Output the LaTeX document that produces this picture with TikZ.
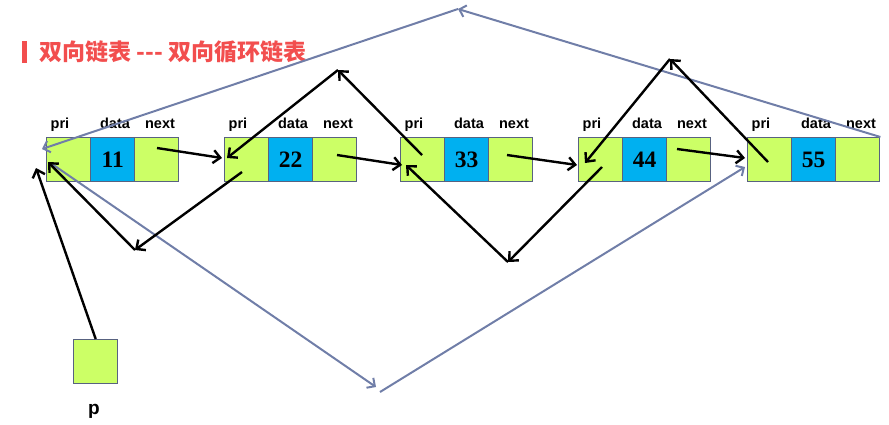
\documentclass[tikz,border=0pt]{standalone}
\usepackage{fontspec}
\setmainfont{Liberation Serif}
\newfontfamily\lsans{Liberation Sans}
\newfontfamily\cjk{Noto Sans CJK SC}
\usetikzlibrary{arrows.meta,calc}
\definecolor{cellgreen}{RGB}{204,255,102}
\definecolor{cellblue}{RGB}{0,176,240}
\definecolor{cellborder}{RGB}{88,98,128}
\definecolor{loopblue}{RGB}{112,126,168}
\definecolor{titlered}{RGB}{242,78,78}
\begin{document}
\begin{tikzpicture}[x=1pt,y=-1pt,
  cellbox/.style={draw=cellborder, line width=1.4pt, minimum width=44pt, minimum height=44pt, inner sep=0pt, anchor=north west},
  numtext/.style={font=\bfseries\fontsize{23.5}{25}\selectfont},
  lab/.style={font=\lsans\bfseries\fontsize{14.5}{16}\selectfont, anchor=base, inner sep=0pt},
  blk/.style={draw=black, line width=2.4pt, -{Straight Barb[length=7pt,width=13pt]}},
  lpb/.style={draw=loopblue, line width=2pt, -{Straight Barb[length=6pt,width=12pt]}}]
\useasboundingbox (0,0) rectangle (889,424);
% title
\fill[titlered] (22,41) rectangle (27,63);
\node[anchor=west, inner sep=0pt, text=titlered, font=\cjk\bfseries\fontsize{23}{25}\selectfont] (title) at (39,52) {双向链表 -{}-{}- 双向循环链表};
% list nodes
\foreach \i/\L/\v in {1/46/11,2/224/22,3/400/33,4/578/44,5/747/55}{
  \node[cellbox,fill=cellgreen] (p\i) at (\L,137) {};
  \node[cellbox,fill=cellblue,numtext] (d\i) at (\L+44,137) {\v};
  \node[cellbox,fill=cellgreen] (x\i) at (\L+88,137) {};
  \node[lab] (lp\i) at (\L+14,128) {pri};
  \node[lab] (ld\i) at (\L+69,128) {data};
  \node[lab] (lx\i) at (\L+114,128) {next};
}
% pointer p
\node[cellbox,fill=cellgreen] (pbox) at (73,339) {};
\node[lab, font=\lsans\bfseries\fontsize{19}{21}\selectfont] (plab) at (94,414) {p};
% coordinates
\coordinate (s1) at (157,148); \coordinate (e2) at (222,158);
\coordinate (q2) at (242,172); \coordinate (v1) at (135,250); \coordinate (e1) at (48,162);
\coordinate (s2) at (337,155); \coordinate (e3) at (402,165);
\coordinate (q3) at (422,155); \coordinate (v2) at (338,70); \coordinate (f2) at (227,158);
\coordinate (s3) at (507,155); \coordinate (e4) at (577,165);
\coordinate (q4) at (602,167); \coordinate (v3) at (508,262); \coordinate (f3) at (406,165);
\coordinate (s4) at (677,149); \coordinate (e5) at (745,158);
\coordinate (q5) at (768,162); \coordinate (v4) at (670,59); \coordinate (f4) at (585,163);
\coordinate (pa) at (36,168);
\coordinate (v5) at (458,9); \coordinate (h1) at (42,149);
\coordinate (r1) at (52,164); \coordinate (v6) at (376,387); \coordinate (w6) at (380,392); \coordinate (h5) at (745,167);
% blue loop connectors
\draw[lpb] (x5.north east) -- (v5);
\draw[lpb] (v5) -- (h1);
\draw[lpb] (r1) -- (v6);
\draw[lpb] (w6) -- (h5);
% black connectors
\draw[blk] (s1) -- (e2);
\draw[blk] (q2) -- (v1);
\draw[blk] (v1) -- (e1);
\draw[blk] (s2) -- (e3);
\draw[blk] (q3) -- (v2);
\draw[blk] (v2) -- (f2);
\draw[blk] (s3) -- (e4);
\draw[blk] (q4) -- (v3);
\draw[blk] (v3) -- (f3);
\draw[blk] (s4) -- (e5);
\draw[blk] (q5) -- (v4);
\draw[blk] (v4) -- (f4);
\draw[blk] (pbox.north) -- (pa);
\end{tikzpicture}
\end{document}
